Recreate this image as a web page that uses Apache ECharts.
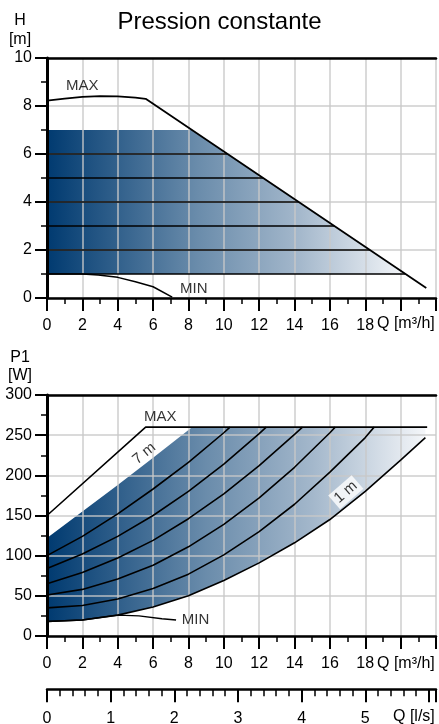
<!DOCTYPE html>
<html>
<head>
<meta charset="utf-8">
<script src="https://cdn.jsdelivr.net/npm/echarts/dist/echarts.min.js"></script>
<style>
html,body{margin:0;padding:0;background:#ffffff;}
#c{width:439px;height:724px;}
</style>
</head>
<body>
<div id="c"></div>
<script>
// ---------------- DATA ----------------
// Axis tick values
const qTicksM3h = [0, 2, 4, 6, 8, 10, 12, 14, 16, 18];
const hTicks = [0, 2, 4, 6, 8, 10];
const pTicks = [0, 50, 100, 150, 200, 250, 300];
const qTicksLs = [0, 1, 2, 3, 4, 5];

// Top chart: constant-pressure head levels (m) and flow (m3/h) where each meets the MAX line
const headLevels = [1, 2, 3, 4, 5, 6, 7];
const headEndQ   = [20.28, 18.27, 16.25, 14.24, 12.22, 10.21, 8.2];
// MAX curve H(Q) and MIN curve H(Q)
const maxCurveH = [[0, 8.22], [1, 8.31], [2, 8.38], [3, 8.41], [4, 8.4], [5, 8.35], [5.58, 8.3], [21.45, 0.42]];
const minCurveH = [[0, 1], [2, 1], [2.9, 0.96], [4, 0.86], [5, 0.68], [6, 0.47], [7.08, 0.04]];

// Bottom chart: power P1 (W) vs Q (m3/h) for each head setting
const p7m = [[0, 122], [2, 155], [4, 188], [6, 222], [8.2, 260]];
const p6m = [[0, 100], [2, 124], [4, 152], [6, 183], [8, 216], [10, 253], [10.35, 260]];
const p5m = [[0, 84], [2, 102], [4, 124], [6, 150], [8, 180], [10, 214], [12, 252], [12.4, 260]];
const p4m = [[0, 65], [2, 79], [4, 97], [6, 119], [8, 146], [10, 177], [12, 212], [14, 251], [14.45, 260]];
const p3m = [[0, 51], [2, 58], [4, 71], [6, 88], [8, 111], [10, 139], [12, 172], [14, 210], [16, 253], [16.3, 260]];
const p2m = [[0, 35], [2, 38], [4, 46], [6, 59], [8, 77], [10, 101], [12, 130], [14, 164], [16, 204], [18, 247], [18.5, 260]];
const p1m = [[0, 18], [2, 20], [4, 26], [6, 36], [8, 50], [10, 69], [12, 91], [14, 116], [16, 145], [18, 180], [20, 219], [21.4, 247]];
const pMax = [[0, 150], [5.58, 260], [21.5, 260]];
const pMin = [[0, 18], [2, 20], [4, 26], [5.2, 25], [6.5, 21.5], [7.3, 20]];
const pTopEnd = [21.4, 260];

// Text labels
const titleText = 'Pression constante';
const labelsTop = [{ name: 'MAX', q: 2.0, v: 8.85 }, { name: 'MIN', q: 8.3, v: 0.4 }];
const labelsBottom = [{ name: 'MAX', q: 6.4, v: 273 }, { name: 'MIN', q: 8.4, v: 20 }];
const curveTags = [{ name: '7 m', q: 5.5, v: 227, rot: 39, bg: false }, { name: '1 m', q: 16.9, v: 179, rot: 41, bg: true }];

// ---------------- CHART ----------------
const FONT = '"Liberation Sans", Arial, Helvetica, sans-serif';
const GRID_COLOR = 'rgba(200,200,200,0.9)';
const INK = '#000000';
const QMAX = 22;

const grad = new echarts.graphic.LinearGradient(0, 0, 1, 0, [
  { offset: 0, color: '#003a70' },
  { offset: 0.42, color: '#6a8cab' },
  { offset: 0.7, color: '#a3b7cb' },
  { offset: 1, color: '#f4f6f9' }
]);

function fmtList(list) {
  return function (v) { return list.indexOf(Math.round(v * 1000) / 1000) >= 0 ? String(v) : ''; };
}

function mainX(gi, ticks) {
  return {
    type: 'value', gridIndex: gi, min: 0, max: QMAX, interval: 2, position: 'bottom', z: 1,
    axisLine: { show: true, onZero: false, lineStyle: { color: INK, width: 2.5 } },
    axisTick: { show: true, length: 13, lineStyle: { color: INK, width: 2 } },
    minorTick: { show: true, splitNumber: 2, length: 6, lineStyle: { color: INK, width: 1.5 } },
    axisLabel: { margin: 20, fontSize: 16, color: INK, fontFamily: FONT, formatter: fmtList(ticks) },
    splitLine: { show: true, lineStyle: { color: GRID_COLOR, width: 1.5 } }
  };
}
function topBorder(gi) {
  return {
    type: 'value', gridIndex: gi, min: 0, max: QMAX, position: 'top', z: 1,
    axisLine: { show: true, onZero: false, lineStyle: { color: INK, width: 2.5 } },
    axisTick: { show: false }, axisLabel: { show: false }, splitLine: { show: false }
  };
}
function mainY(gi, max, interval, ticks) {
  return {
    type: 'value', gridIndex: gi, min: 0, max: max, interval: interval, z: 1,
    axisLine: { show: true, onZero: false, lineStyle: { color: INK, width: 3 } },
    axisTick: { show: true, length: 12, lineStyle: { color: INK, width: 2 } },
    minorTick: { show: true, splitNumber: 2, length: 6, lineStyle: { color: INK, width: 1.5 } },
    axisLabel: { margin: 15, fontSize: 16, color: INK, fontFamily: FONT, formatter: fmtList(ticks) },
    splitLine: { show: true, lineStyle: { color: GRID_COLOR, width: 1.5 } }
  };
}

function polygonSeries(xi, yi, pts) {
  return {
    type: 'custom', xAxisIndex: xi, yAxisIndex: yi, data: [0], silent: true, z: 0,
    renderItem: function (params, api) {
      return { type: 'polygon', shape: { points: pts.map(function (p) { return api.coord(p); }) }, style: { fill: grad } };
    }
  };
}
function lineSeries(xi, yi, data, w) {
  return {
    type: 'line', xAxisIndex: xi, yAxisIndex: yi, data: data, showSymbol: false, symbol: 'none',
    silent: true, z: 3, lineStyle: { color: INK, width: w || 1.6 }, animation: false
  };
}
function textSeries(xi, yi, items) {
  return {
    type: 'scatter', xAxisIndex: xi, yAxisIndex: yi, symbolSize: 0, silent: true, z: 5,
    data: items.map(function (t) {
      return {
        value: [t.q, t.v],
        label: {
          show: true, position: 'inside', formatter: t.name, rotate: t.rot || 0,
          fontSize: 15, color: INK, fontFamily: FONT,
          backgroundColor: t.bg ? '#ffffff' : 'transparent', padding: t.bg ? [2, 3, 1, 3] : 0
        }
      };
    })
  };
}

// Top polygon: from H=1 to H=7 bounded by the MAX line
const topPoly = [[0, headLevels[0]], [0, headLevels[6]], [headEndQ[6], headLevels[6]], [headEndQ[0], headLevels[0]]];
// Bottom polygon: between 1 m curve and 7 m curve / 260 W cap
const bottomPoly = p7m.concat([pTopEnd]).concat(p1m.slice().reverse());

const series = [];
series.push(polygonSeries(0, 0, topPoly));
for (let i = 0; i < 6; i++) {
  series.push(lineSeries(0, 0, [[0, headLevels[i]], [headEndQ[i], headLevels[i]]], 1.6));
}
series.push(lineSeries(0, 0, maxCurveH, 1.8));
series.push(lineSeries(0, 0, minCurveH, 1.5));
series.push(textSeries(0, 0, labelsTop));

series.push(polygonSeries(2, 1, bottomPoly));
[p6m, p5m, p4m, p3m, p2m, p1m].forEach(function (d) { series.push(lineSeries(2, 1, d, 1.6)); });
series.push(lineSeries(2, 1, pMax, 1.6));
series.push(lineSeries(2, 1, pMin, 1.4));
series.push(textSeries(2, 1, labelsBottom));
series.push(textSeries(2, 1, curveTags));

const option = {
  animation: false,
  backgroundColor: '#ffffff',
  textStyle: { fontFamily: FONT },
  grid: [
    { left: 47, right: 0, top: 58, height: 240, containLabel: false },
    { left: 47, right: 0, top: 395, height: 241, containLabel: false },
    { left: 47, right: 0, top: 689, height: 1, containLabel: false }
  ],
  xAxis: [
    mainX(0, qTicksM3h),   // 0
    topBorder(0),          // 1
    mainX(1, qTicksM3h),   // 2
    topBorder(1),          // 3
    {                      // 4 : Q [l/s]
      type: 'value', gridIndex: 2, min: 0, max: QMAX / 3.6, interval: 1, position: 'bottom',
      axisLine: { show: true, onZero: false, lineStyle: { color: INK, width: 2.5 } },
      axisTick: { show: true, length: 13, lineStyle: { color: INK, width: 2 } },
      minorTick: { show: true, splitNumber: 5, length: 7, lineStyle: { color: INK, width: 1.5 } },
      axisLabel: { margin: 21, fontSize: 16, color: INK, fontFamily: FONT, formatter: fmtList(qTicksLs) },
      splitLine: { show: false }
    }
  ],
  yAxis: [
    mainY(0, 10, 2, hTicks),
    mainY(1, 300, 50, pTicks),
    { type: 'value', gridIndex: 2, min: 0, max: 1, show: false }
  ],
  graphic: [
    { type: 'text', left: 'center', top: 10, style: { text: titleText, font: '24px ' + FONT, fill: INK }, x: 22 },
    { type: 'text', x: 20, y: 11, style: { text: 'H\n[m]', font: '16px ' + FONT, fill: INK, align: 'center', lineHeight: 19 } },
    { type: 'text', x: 20, y: 349, style: { text: 'P1\n[W]', font: '16px ' + FONT, fill: INK, align: 'center', lineHeight: 18 } },
    { type: 'text', x: 377, y: 316, style: { text: 'Q [m³/h]', font: '16px ' + FONT, fill: INK } },
    { type: 'text', x: 377, y: 656, style: { text: 'Q [m³/h]', font: '16px ' + FONT, fill: INK } },
    { type: 'text', x: 393, y: 709, style: { text: 'Q [l/s]', font: '16px ' + FONT, fill: INK } }
  ],
  series: series
};
const chart = echarts.init(document.getElementById('c'));
chart.setOption(option);
</script>
</body>
</html>
